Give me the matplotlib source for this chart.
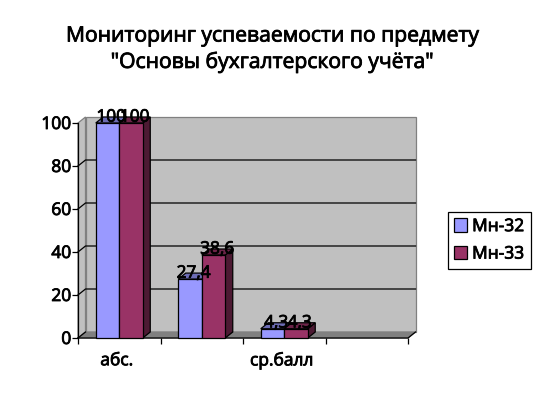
import matplotlib
matplotlib.use("Agg")
import matplotlib.pyplot as plt
import matplotlib.patheffects as pe
from matplotlib.patches import Polygon, Rectangle

title_lines = ["Мониторинг успеваемости по предмету", '"Основы бухгалтерского учёта"']
categories = ["абс.", "", "ср.балл", ""]
series_names = ["Мн-32", "Мн-33"]
values_32 = [100, 27.4, 4.3]
values_33 = [100, 38.6, 4.3]
y_ticks = [0, 20, 40, 60, 80, 100]

colors = ["#9999FF", "#993366"]
tops = ["#6C6CB4", "#6C2448"]
sides = ["#4D4D80", "#4D1A33"]

W, H = 544, 394
plt.rcParams["font.family"] = ["Open Sans", "DejaVu Sans"]
fig = plt.figure(figsize=(W / 100, H / 100), dpi=100, facecolor="white")
L, R, B, T = 78, 408, 338, 123
ax = fig.add_axes([L / W, (H - B) / H, (R - L) / W, (B - T) / H])
ax.set_xlim(0, len(categories))
ax.set_ylim(0, 100)
ax.patch.set_visible(False)
for s in ax.spines.values():
    s.set_visible(False)

dx = 7.5 / ((R - L) / len(categories))
dy = 6 / ((B - T) / 100)
bw = 23.5 / ((R - L) / len(categories))
EDGE = "black"
bold = [pe.withStroke(linewidth=0.6, foreground="black")]

def poly(pts, fc, ec=EDGE, lw=0.9, z=1):
    ax.add_patch(Polygon(pts, closed=True, facecolor=fc, edgecolor=ec, linewidth=lw,
                         zorder=z, clip_on=False, joinstyle="miter"))

n = len(categories)
# walls and floor
poly([(0, 0), (dx, dy), (dx, 100 + dy), (0, 100)], "#C0C0C0", "#808080", 0.9, 1)
poly([(dx, dy), (n + dx, dy), (n + dx, 100 + dy), (dx, 100 + dy)], "#C0C0C0", "#808080", 0.9, 1)
poly([(0, 0), (n, 0), (n + dx, dy), (dx, dy)], "#808080", "#808080", 0.9, 1.5)

# gridlines
for v in y_ticks[1:-1]:
    ax.plot([0, dx, n + dx], [v, v + dy, v + dy], color="black", lw=0.9, zorder=2, clip_on=False)
ax.plot([0, 0], [0, 100], color="black", lw=0.9, zorder=2.5, clip_on=False)
ax.plot([0, n, n + dx], [0, 0, dy], color="black", lw=0.9, zorder=2.5, clip_on=False)
ax.plot([0, dx], [0, dy], color="black", lw=0.9, zorder=2.5, clip_on=False)

# bars
for s_i, vals in enumerate([values_32, values_33]):
    for c_i, v in enumerate(vals):
        x0 = c_i + 0.5 + (s_i - 1) * bw
        x1 = x0 + bw
        z = 3 + s_i
        poly([(x1, 0), (x1 + dx, dy), (x1 + dx, v + dy), (x1, v)], sides[s_i], z=z)
        poly([(x0, v), (x1, v), (x1 + dx, v + dy), (x0 + dx, v + dy)], tops[s_i], z=z)
        ax.add_patch(Rectangle((x0, 0), bw, v, facecolor=colors[s_i], edgecolor=EDGE,
                               linewidth=0.9, zorder=z, clip_on=False))
        label = f"{v:g}".replace(".", ",")
        ax.text((x0 + x1) / 2 + dx / 2, v + dy - 0.3, label, ha="center", va="center",
                fontsize=12.4, color="black", zorder=8, clip_on=False, path_effects=bold)

ax.set_xticks(range(n + 1))
ax.set_xticklabels([])
ax.tick_params(axis="x", length=4, width=0.9, color="black", direction="out")
for i, c in enumerate(categories):
    ax.text(i + 0.47, -10.8, c, ha="center", va="center", fontsize=12.5, color="black",
            path_effects=bold)
ax.set_yticks(y_ticks)
ax.tick_params(axis="y", length=4, width=0.9, color="black", direction="out", pad=0.8, labelsize=12.5)
for t in ax.get_yticklabels():
    t.set_path_effects(bold)

fig.text(272 / W, (H - 36) / H, title_lines[0], ha="center", va="center", fontsize=15.2,
         color="black", path_effects=bold)
fig.text(272 / W, (H - 62) / H, title_lines[1], ha="center", va="center", fontsize=15.2,
         color="black", path_effects=bold)

# legend
handles = [Rectangle((0, 0), 1, 1, facecolor=c, edgecolor="black", linewidth=0.9) for c in colors]
leg = fig.legend(handles, series_names, loc="center",
                 bbox_to_anchor=(489.5 / W, (H - 240.5) / H), frameon=True, fontsize=12.5,
                 handlelength=0.72, handleheight=0.8, handletextpad=0.3, labelspacing=0.62,
                 borderpad=0.38, borderaxespad=0, fancybox=False, edgecolor="black", framealpha=1)
leg.get_frame().set_linewidth(0.9)
for t in leg.get_texts():
    t.set_path_effects(bold)

fig.savefig("out.png", dpi=100, facecolor="white")
